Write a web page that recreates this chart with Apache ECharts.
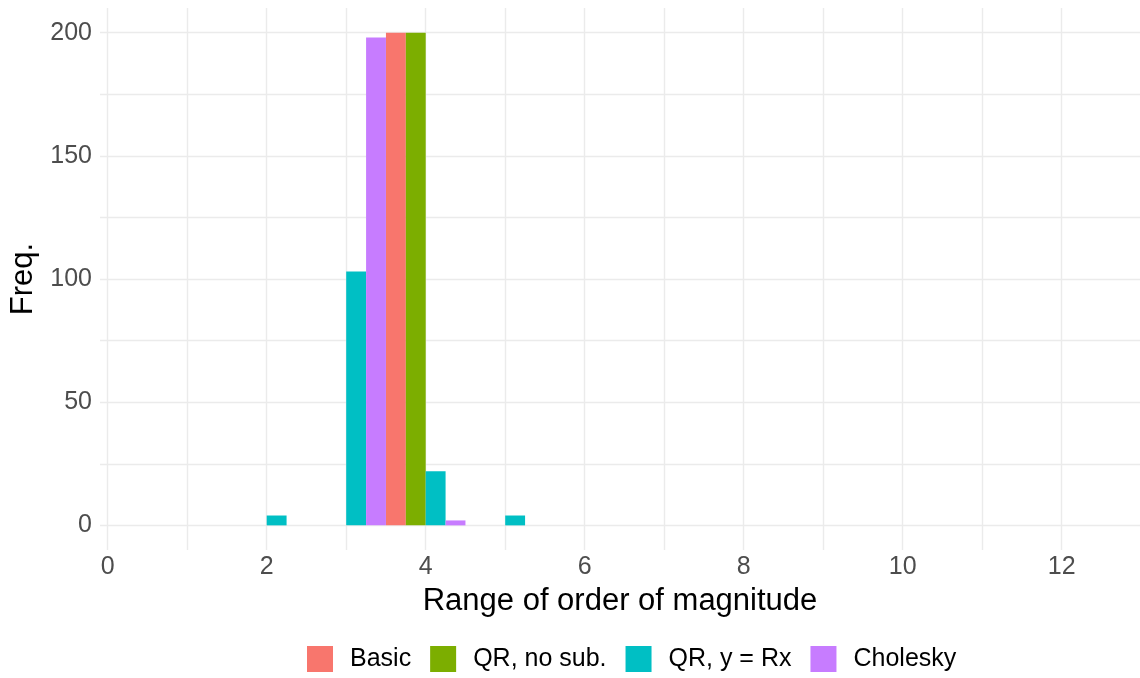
<!DOCTYPE html>
<html>
<head>
<meta charset="utf-8">
<script src="https://cdn.jsdelivr.net/npm/echarts@6/dist/echarts.min.js"></script>
<style>
  html, body { margin: 0; padding: 0; background: #fff; }
  #chart { width: 1140px; height: 678px; }
</style>
</head>
<body>
<div id="chart"></div>
<script>
// histogram counts per method, each bar: [bin start, count]
var seriesNames = ['Basic', 'QR, no sub.', 'QR, y = Rx', 'Cholesky'];
var basicBins = [[3.5, 200]];
var qrNoSubBins = [[3.75, 200]];
var qrRxBins = [[2.0, 4], [3.0, 103], [4.0, 22], [5.0, 4]];
var choleskyBins = [[3.25, 198], [4.25, 2]];
var binWidth = 0.25;

var xTicks = [0, 1, 2, 3, 4, 5, 6, 7, 8, 9, 10, 11, 12, 13];
var xLabels = [0, 2, 4, 6, 8, 10, 12];
var yTicks = [0, 25, 50, 75, 100, 125, 150, 175, 200];
var yLabels = [0, 50, 100, 150, 200];

var colors = ['#F8766D', '#7CAE00', '#00BFC4', '#C77CFF'];
var font = 'Liberation Sans, Arial, Helvetica, sans-serif';

var dom = document.getElementById('chart');
var myChart = echarts.init(dom);

function renderBar(params, api) {
    var start = api.value(0);
    var count = api.value(1);
    var p0 = api.coord([start, count]);
    var p1 = api.coord([start + binWidth, 0]);
    return {
        type: 'rect',
        shape: {x: p0[0], y: p0[1], width: p1[0] - p0[0], height: p1[1] - p0[1]},
        style: {fill: api.visual('color')}
    };
}

function makeSeries(name, bins, color) {
    return {
        name: name,
        type: 'custom',
        renderItem: renderBar,
        itemStyle: {color: color},
        encode: {x: 0, y: 1},
        data: bins
    };
}

var gridLine = {show: true, lineStyle: {color: '#EBEBEB', width: 1.4}};

var option = {
    animation: false,
    color: colors,
    grid: {left: 100, right: 0, top: 8, bottom: 128, containLabel: false},
    legend: {
        left: 307,
        top: 646,
        padding: 0,
        icon: 'rect',
        itemWidth: 26,
        itemHeight: 26,
        itemGap: 19,
        data: seriesNames,
        textStyle: {fontFamily: font, fontSize: 25, color: '#000', padding: [0, 0, 0, 12]}
    },
    xAxis: {
        type: 'value',
        min: -0.097,
        max: 12.985,
        name: 'Range of order of magnitude',
        nameLocation: 'middle',
        nameGap: 36,
        nameTextStyle: {fontFamily: font, fontSize: 31, color: '#000'},
        axisLine: {show: false},
        axisTick: {show: false, customValues: xTicks},
        axisLabel: {customValues: xLabels, margin: 5, fontFamily: font, fontSize: 25, color: '#4D4D4D'},
        splitLine: gridLine
    },
    yAxis: {
        type: 'value',
        min: -10,
        max: 210,
        name: 'Freq.',
        nameLocation: 'middle',
        nameGap: 58,
        nameRotate: 90,
        nameTextStyle: {fontFamily: font, fontSize: 31, color: '#000'},
        axisLine: {show: false},
        axisTick: {show: false, customValues: yTicks},
        axisLabel: {customValues: yLabels, margin: 8, fontFamily: font, fontSize: 25, color: '#4D4D4D'},
        splitLine: gridLine
    },
    series: [
        makeSeries(seriesNames[0], basicBins, colors[0]),
        makeSeries(seriesNames[1], qrNoSubBins, colors[1]),
        makeSeries(seriesNames[2], qrRxBins, colors[2]),
        makeSeries(seriesNames[3], choleskyBins, colors[3])
    ]
};

myChart.setOption(option);
window.addEventListener('resize', function () {
    myChart.resize();
});
</script>
</body>
</html>
